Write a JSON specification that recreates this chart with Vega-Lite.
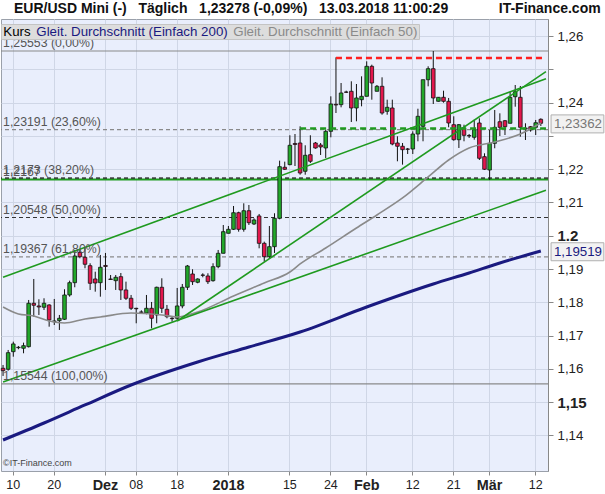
{
"$schema": "https://vega.github.io/schema/vega-lite/v6.json",
"width": 547, "height": 452, "autosize": "none",
"padding": {"left": 1, "top": 19, "right": 57, "bottom": 23},
"background": "white",
"title": {"text": "EUR/USD Mini (-)\u00a0\u00a0\u00a0Täglich\u00a0\u00a0\u00a01,23278 (-0,09%)\u00a0\u00a0\u00a013.03.2018 11:00:29\u00a0\u00a0\u00a0\u00a0\u00a0\u00a0\u00a0\u00a0\u00a0\u00a0\u00a0\u00a0\u00a0IT-Finance.com", "anchor": "start", "frame": "group", "dx": 13, "offset": 3, "font": "Liberation Sans", "fontSize": 14, "fontWeight": "bold", "color": "#111", "limit": 0},
"config": {"view": {"fill": "#e9eefc", "stroke": "#9aa0aa"}, "font": "Liberation Sans", "axisY": {"labelOverlap": false, "tickCount": 14}},
"datasets": {
"candles": [
{"d":"2017-11-08","o":1.16016,"h":1.16115,"l":1.15785,"c":1.15944},
{"d":"2017-11-09","o":1.15986,"h":1.16566,"l":1.15944,"c":1.16485},
{"d":"2017-11-10","o":1.16515,"h":1.16816,"l":1.16364,"c":1.16747},
{"d":"2017-11-12","o":1.16635,"h":1.16686,"l":1.16587,"c":1.16647},
{"d":"2017-11-13","o":1.16617,"h":1.16786,"l":1.16467,"c":1.16695},
{"d":"2017-11-14","o":1.16665,"h":1.18069,"l":1.16641,"c":1.17970},
{"d":"2017-11-15","o":1.17970,"h":1.18700,"l":1.17567,"c":1.17910},
{"d":"2017-11-16","o":1.17889,"h":1.18090,"l":1.17618,"c":1.17859},
{"d":"2017-11-17","o":1.17850,"h":1.18120,"l":1.17768,"c":1.17970},
{"d":"2017-11-19","o":1.17919,"h":1.17940,"l":1.17266,"c":1.17468},
{"d":"2017-11-20","o":1.17417,"h":1.18099,"l":1.17317,"c":1.17438},
{"d":"2017-11-21","o":1.17447,"h":1.17618,"l":1.17167,"c":1.17519},
{"d":"2017-11-22","o":1.17489,"h":1.18391,"l":1.17468,"c":1.18219},
{"d":"2017-11-23","o":1.18219,"h":1.18649,"l":1.18168,"c":1.18589},
{"d":"2017-11-24","o":1.18589,"h":1.19572,"l":1.18451,"c":1.19391},
{"d":"2017-11-26","o":1.19503,"h":1.19572,"l":1.19322,"c":1.19370},
{"d":"2017-11-27","o":1.19352,"h":1.19641,"l":1.19022,"c":1.19142},
{"d":"2017-11-28","o":1.19100,"h":1.19172,"l":1.18370,"c":1.18571},
{"d":"2017-11-29","o":1.18700,"h":1.18919,"l":1.18319,"c":1.18580},
{"d":"2017-11-30","o":1.18589,"h":1.19422,"l":1.18168,"c":1.19052},
{"d":"2017-12-01","o":1.19106,"h":1.19482,"l":1.18370,"c":1.19076},
{"d":"2017-12-03","o":1.18700,"h":1.18820,"l":1.18670,"c":1.18685},
{"d":"2017-12-04","o":1.18649,"h":1.18820,"l":1.18370,"c":1.18751},
{"d":"2017-12-05","o":1.18769,"h":1.18880,"l":1.18069,"c":1.18370},
{"d":"2017-12-06","o":1.18370,"h":1.18620,"l":1.18069,"c":1.18120},
{"d":"2017-12-07","o":1.18120,"h":1.18219,"l":1.17768,"c":1.17819},
{"d":"2017-12-08","o":1.17819,"h":1.17834,"l":1.17368,"c":1.17804},
{"d":"2017-12-10","o":1.17708,"h":1.17759,"l":1.17658,"c":1.17699},
{"d":"2017-12-11","o":1.17678,"h":1.18219,"l":1.17639,"c":1.17819},
{"d":"2017-12-12","o":1.17819,"h":1.18009,"l":1.17217,"c":1.17519},
{"d":"2017-12-13","o":1.17618,"h":1.18469,"l":1.17368,"c":1.18451},
{"d":"2017-12-14","o":1.18451,"h":1.18721,"l":1.17678,"c":1.17819},
{"d":"2017-12-15","o":1.17789,"h":1.17919,"l":1.17519,"c":1.17567},
{"d":"2017-12-17","o":1.17519,"h":1.17567,"l":1.17417,"c":1.17507},
{"d":"2017-12-18","o":1.17519,"h":1.18430,"l":1.17468,"c":1.17889},
{"d":"2017-12-19","o":1.17889,"h":1.18550,"l":1.17819,"c":1.18451},
{"d":"2017-12-20","o":1.18451,"h":1.19121,"l":1.18370,"c":1.19091},
{"d":"2017-12-21","o":1.18850,"h":1.18992,"l":1.18520,"c":1.18619},
{"d":"2017-12-22","o":1.18601,"h":1.18721,"l":1.18571,"c":1.18700},
{"d":"2017-12-24","o":1.18820,"h":1.18871,"l":1.18751,"c":1.18811},
{"d":"2017-12-26","o":1.18790,"h":1.18871,"l":1.18550,"c":1.18619},
{"d":"2017-12-27","o":1.18649,"h":1.19172,"l":1.18619,"c":1.19070},
{"d":"2017-12-28","o":1.19070,"h":1.19572,"l":1.19022,"c":1.19472},
{"d":"2017-12-29","o":1.19472,"h":1.20323,"l":1.19472,"c":1.20122},
{"d":"2018-01-01","o":1.20073,"h":1.20293,"l":1.20073,"c":1.20193},
{"d":"2018-01-02","o":1.20193,"h":1.20894,"l":1.20173,"c":1.20692},
{"d":"2018-01-03","o":1.20692,"h":1.20722,"l":1.20122,"c":1.20193},
{"d":"2018-01-04","o":1.20193,"h":1.20975,"l":1.20122,"c":1.20752},
{"d":"2018-01-05","o":1.20752,"h":1.20924,"l":1.20323,"c":1.20392},
{"d":"2018-01-07","o":1.20353,"h":1.20524,"l":1.20323,"c":1.20474},
{"d":"2018-01-08","o":1.20594,"h":1.20654,"l":1.19622,"c":1.19772},
{"d":"2018-01-09","o":1.19772,"h":1.19822,"l":1.19220,"c":1.19370},
{"d":"2018-01-10","o":1.19370,"h":1.20293,"l":1.19331,"c":1.19671},
{"d":"2018-01-11","o":1.19671,"h":1.20675,"l":1.19482,"c":1.20524},
{"d":"2018-01-12","o":1.20524,"h":1.22257,"l":1.20494,"c":1.22076},
{"d":"2018-01-14","o":1.22058,"h":1.22227,"l":1.21976,"c":1.21998},
{"d":"2018-01-15","o":1.22137,"h":1.23020,"l":1.22119,"c":1.22719},
{"d":"2018-01-16","o":1.22773,"h":1.23058,"l":1.22096,"c":1.22743},
{"d":"2018-01-17","o":1.22788,"h":1.23289,"l":1.21835,"c":1.21886},
{"d":"2018-01-18","o":1.21937,"h":1.22719,"l":1.21835,"c":1.22418},
{"d":"2018-01-19","o":1.22436,"h":1.23020,"l":1.22187,"c":1.22238},
{"d":"2018-01-21","o":1.22788,"h":1.22818,"l":1.22617,"c":1.22638},
{"d":"2018-01-22","o":1.22728,"h":1.22788,"l":1.22427,"c":1.22668},
{"d":"2018-01-23","o":1.22638,"h":1.23188,"l":1.22337,"c":1.23139},
{"d":"2018-01-24","o":1.23139,"h":1.24191,"l":1.22959,"c":1.23960},
{"d":"2018-01-25","o":1.23950,"h":1.25362,"l":1.23689,"c":1.23930},
{"d":"2018-01-26","o":1.23940,"h":1.24591,"l":1.23860,"c":1.24291},
{"d":"2018-01-28","o":1.24321,"h":1.24360,"l":1.24291,"c":1.24312},
{"d":"2018-01-29","o":1.24342,"h":1.24642,"l":1.23419,"c":1.23840},
{"d":"2018-01-30","o":1.23840,"h":1.24561,"l":1.23440,"c":1.24141},
{"d":"2018-01-31","o":1.24090,"h":1.24792,"l":1.23890,"c":1.24191},
{"d":"2018-02-01","o":1.24191,"h":1.25243,"l":1.24191,"c":1.25093},
{"d":"2018-02-02","o":1.25093,"h":1.25142,"l":1.24090,"c":1.24591},
{"d":"2018-02-04","o":1.24342,"h":1.24531,"l":1.24342,"c":1.24492},
{"d":"2018-02-05","o":1.24492,"h":1.24762,"l":1.23638,"c":1.23689},
{"d":"2018-02-06","o":1.23740,"h":1.24090,"l":1.23638,"c":1.23860},
{"d":"2018-02-07","o":1.23840,"h":1.24090,"l":1.22719,"c":1.22758},
{"d":"2018-02-08","o":1.22788,"h":1.22989,"l":1.22238,"c":1.22689},
{"d":"2018-02-09","o":1.22689,"h":1.22788,"l":1.22137,"c":1.22587},
{"d":"2018-02-11","o":1.22608,"h":1.22638,"l":1.22457,"c":1.22599},
{"d":"2018-02-12","o":1.22608,"h":1.23139,"l":1.22457,"c":1.23058},
{"d":"2018-02-13","o":1.23058,"h":1.23818,"l":1.22839,"c":1.23590},
{"d":"2018-02-14","o":1.23289,"h":1.24690,"l":1.22839,"c":1.24690},
{"d":"2018-02-15","o":1.24690,"h":1.25093,"l":1.24492,"c":1.25021},
{"d":"2018-02-16","o":1.25021,"h":1.25553,"l":1.23960,"c":1.24141},
{"d":"2018-02-18","o":1.24041,"h":1.24170,"l":1.24030,"c":1.24161},
{"d":"2018-02-19","o":1.24161,"h":1.24360,"l":1.24000,"c":1.24041},
{"d":"2018-02-20","o":1.24041,"h":1.24141,"l":1.23259,"c":1.23389},
{"d":"2018-02-21","o":1.23338,"h":1.23590,"l":1.22857,"c":1.22887},
{"d":"2018-02-22","o":1.22887,"h":1.23359,"l":1.22638,"c":1.23338},
{"d":"2018-02-23","o":1.23239,"h":1.23338,"l":1.22839,"c":1.23019},
{"d":"2018-02-25","o":1.23013,"h":1.23058,"l":1.22938,"c":1.22998},
{"d":"2018-02-26","o":1.22959,"h":1.23488,"l":1.22887,"c":1.23188},
{"d":"2018-02-27","o":1.23389,"h":1.23530,"l":1.22277,"c":1.22328},
{"d":"2018-02-28","o":1.22377,"h":1.22478,"l":1.21976,"c":1.21998},
{"d":"2018-03-01","o":1.21976,"h":1.23179,"l":1.21676,"c":1.22779},
{"d":"2018-03-02","o":1.22779,"h":1.23780,"l":1.22629,"c":1.23259},
{"d":"2018-03-04","o":1.23427,"h":1.23680,"l":1.22998,"c":1.23259},
{"d":"2018-03-05","o":1.23457,"h":1.23479,"l":1.23028,"c":1.23277},
{"d":"2018-03-06","o":1.23380,"h":1.24330,"l":1.23380,"c":1.24161},
{"d":"2018-03-07","o":1.24179,"h":1.24531,"l":1.23879,"c":1.24330},
{"d":"2018-03-08","o":1.24161,"h":1.24501,"l":1.22977,"c":1.23259},
{"d":"2018-03-09","o":1.23239,"h":1.23380,"l":1.22878,"c":1.23218},
{"d":"2018-03-11","o":1.23277,"h":1.23299,"l":1.23128,"c":1.23179},
{"d":"2018-03-12","o":1.23259,"h":1.23479,"l":1.23028,"c":1.23397},
{"d":"2018-03-13","o":1.23500,"h":1.23530,"l":1.23299,"c":1.23380}
],
"ma": [
{"s":"Gleit. Durchschnitt (Einfach 200)","d":"2017-11-08","v":1.13860},
{"s":"Gleit. Durchschnitt (Einfach 200)","d":"2017-11-17","v":1.14371},
{"s":"Gleit. Durchschnitt (Einfach 200)","d":"2017-11-27","v":1.14912},
{"s":"Gleit. Durchschnitt (Einfach 200)","d":"2017-12-07","v":1.15513},
{"s":"Gleit. Durchschnitt (Einfach 200)","d":"2017-12-22","v":1.16204},
{"s":"Gleit. Durchschnitt (Einfach 200)","d":"2018-01-05","v":1.16655},
{"s":"Gleit. Durchschnitt (Einfach 200)","d":"2018-01-17","v":1.17106},
{"s":"Gleit. Durchschnitt (Einfach 200)","d":"2018-02-01","v":1.17858},
{"s":"Gleit. Durchschnitt (Einfach 200)","d":"2018-02-16","v":1.18549},
{"s":"Gleit. Durchschnitt (Einfach 200)","d":"2018-02-25","v":1.18880},
{"s":"Gleit. Durchschnitt (Einfach 200)","d":"2018-03-04","v":1.19180},
{"s":"Gleit. Durchschnitt (Einfach 200)","d":"2018-03-13","v":1.19540},
{"s":"Gleit. Durchschnitt (Einfach 50)","d":"2017-11-08","v":1.17858},
{"s":"Gleit. Durchschnitt (Einfach 50)","d":"2017-11-12","v":1.17648},
{"s":"Gleit. Durchschnitt (Einfach 50)","d":"2017-11-15","v":1.17588},
{"s":"Gleit. Durchschnitt (Einfach 50)","d":"2017-11-19","v":1.17438},
{"s":"Gleit. Durchschnitt (Einfach 50)","d":"2017-11-22","v":1.17377},
{"s":"Gleit. Durchschnitt (Einfach 50)","d":"2017-11-27","v":1.17498},
{"s":"Gleit. Durchschnitt (Einfach 50)","d":"2017-11-30","v":1.17558},
{"s":"Gleit. Durchschnitt (Einfach 50)","d":"2017-12-07","v":1.17678},
{"s":"Gleit. Durchschnitt (Einfach 50)","d":"2017-12-14","v":1.17618},
{"s":"Gleit. Durchschnitt (Einfach 50)","d":"2017-12-18","v":1.17558},
{"s":"Gleit. Durchschnitt (Einfach 50)","d":"2017-12-22","v":1.17708},
{"s":"Gleit. Durchschnitt (Einfach 50)","d":"2018-01-02","v":1.18189},
{"s":"Gleit. Durchschnitt (Einfach 50)","d":"2018-01-09","v":1.18580},
{"s":"Gleit. Durchschnitt (Einfach 50)","d":"2018-01-15","v":1.18910},
{"s":"Gleit. Durchschnitt (Einfach 50)","d":"2018-01-17","v":1.19151},
{"s":"Gleit. Durchschnitt (Einfach 50)","d":"2018-01-23","v":1.19632},
{"s":"Gleit. Durchschnitt (Einfach 50)","d":"2018-01-30","v":1.20233},
{"s":"Gleit. Durchschnitt (Einfach 50)","d":"2018-02-04","v":1.20624},
{"s":"Gleit. Durchschnitt (Einfach 50)","d":"2018-02-09","v":1.21135},
{"s":"Gleit. Durchschnitt (Einfach 50)","d":"2018-02-15","v":1.21766},
{"s":"Gleit. Durchschnitt (Einfach 50)","d":"2018-02-20","v":1.22277},
{"s":"Gleit. Durchschnitt (Einfach 50)","d":"2018-02-25","v":1.22637},
{"s":"Gleit. Durchschnitt (Einfach 50)","d":"2018-03-02","v":1.22818},
{"s":"Gleit. Durchschnitt (Einfach 50)","d":"2018-03-08","v":1.23058},
{"s":"Gleit. Durchschnitt (Einfach 50)","d":"2018-03-13","v":1.23389}
],
"fib": [
{"v":1.25553,"t":"1,25553 (0,00%)","k":"s"},
{"v":1.23191,"t":"1,23191 (23,60%)","k":"g"},
{"v":1.2173,"t":"1,2173 (38,20%)","k":"k"},
{"v":1.20548,"t":"1,20548 (50,00%)","k":"k"},
{"v":1.19367,"t":"1,19367 (61,80%)","k":"g"},
{"v":1.15544,"t":"1,15544 (100,00%)","k":"s"}
],
"support": [{"v":1.2169,"t":"1,2167"}],
"trend": [
{"id":"a","d":"2017-11-08","v":1.18750},{"id":"a","d":"2018-03-14","v":1.24720},
{"id":"b","d":"2017-11-08","v":1.15606},{"id":"b","d":"2018-03-14","v":1.21366},
{"id":"c","d":"2017-12-18","v":1.17437},{"id":"c","d":"2018-03-14","v":1.24931}
],
"hl": [
{"id":"r","d":"2018-01-25","v":1.2534},{"id":"r","d":"2018-03-14","v":1.2534},
{"id":"g","d":"2018-01-17","v":1.2322},{"id":"g","d":"2018-03-14","v":1.2322}
],
"marks": [
{"d":"2018-03-14","v":1.23362,"t":"1,23362","k":"p"},
{"d":"2018-03-14","v":1.19519,"t":"1,19519","k":"m"}
],
"wm": [{"v":1.1318,"t":"©IT-Finance.com"}]
},
"layer": [
{"data":{"name":"fib"},"mark":{"type":"rule","strokeWidth":1.2},
 "encoding":{
  "y":{"field":"v","type":"quantitative","title":null,
   "scale":{"domain":[1.12928,1.26515],"nice":false,"zero":false},
   "axis":{"orient":"right","title":null,"labelOverlap":false,"tickCount":14,
    "values":[1.14,1.15,1.16,1.17,1.18,1.19,1.2,1.21,1.22,1.23,1.24,1.25,1.26],
    "labelExpr":"abs(datum.value-1.25)<0.001 || abs(datum.value-1.23)<0.001 || abs(datum.value-1.13)<0.001 ? '' : abs(datum.value-1.2)<0.001 ? '1.2' : replace(format(datum.value, '.2f'), '.', ',')",
    "labelFontSize":{"condition":{"test":"abs(datum.value-1.2)<0.001 || abs(datum.value-1.15)<0.001","value":15},"value":13.3},
    "labelFontWeight":{"condition":{"test":"abs(datum.value-1.2)<0.001 || abs(datum.value-1.15)<0.001","value":"bold"},"value":"normal"},
    "labelColor":"#222","labelFont":"Liberation Sans","labelPadding":4,"tickSize":5,"tickColor":"#888","domainColor":"#888",
    "grid":true,"gridColor":"#cfd6e6"}},
  "color":{"condition":{"test":"datum.k=='k'","value":"#333333"},"value":"#8a8a8a"},
  "strokeDash":{"condition":{"test":"datum.k=='s'","value":[1,0]},"value":[4,3]}
 }},
{"data":{"name":"support"},"mark":{"type":"rule","color":"#1f9a1f","strokeWidth":2},
 "encoding":{"y":{"field":"v","type":"quantitative","title":null}}},
{"data":{"name":"fib"},"transform":[{"filter":"datum.k=='k' && datum.v>1.21"}],"mark":{"type":"rule","color":"#333","strokeWidth":1,"strokeDash":[4,3]},
 "encoding":{"y":{"field":"v","type":"quantitative","title":null}}},
{"data":{"name":"candles"},"mark":{"type":"rule","color":"#111","strokeWidth":1},
 "encoding":{
  "x":{"field":"d","type":"ordinal","title":null,
   "scale":{"paddingInner":0.3,"paddingOuter":0.05},
   "axis":{"title":null,"values":["2017-11-10","2017-11-20","2017-12-01","2017-12-08","2017-12-18","2018-01-01","2018-01-15","2018-01-24","2018-02-01","2018-02-12","2018-02-21","2018-03-01","2018-03-12"],
    "labelExpr":"datum.value=='2017-12-01' ? 'Dez' : datum.value=='2018-01-01' ? '2018' : datum.value=='2018-02-01' ? 'Feb' : datum.value=='2018-03-01' ? 'Mär' : substring(datum.value, 8, 10)",
    "labelAngle":0,"labelFont":"Liberation Sans","labelColor":"#222",
    "labelFontSize":{"condition":{"test":"substring(datum.value,8,10)=='01'","value":14.4},"value":12.5},
    "labelFontWeight":{"condition":{"test":"substring(datum.value,8,10)=='01'","value":"bold"},"value":"normal"},
    "grid":true,"gridColor":"#cfd6e6","bandPosition":0.5,"domain":false,"tickSize":4,"tickColor":"#888","labelPadding":3}},
  "y":{"field":"l","type":"quantitative","title":null},
  "y2":{"field":"h","title":null}
 }},
{"data":{"name":"candles"},"mark":{"type":"bar","stroke":"#111","strokeWidth":0.8},
 "encoding":{
  "x":{"field":"d","type":"ordinal","title":null},
  "y":{"field":"o","type":"quantitative","title":null},
  "y2":{"field":"c","title":null},
  "color":{"condition":{"test":"datum.c>=datum.o","value":"#22a82a"},"value":"#e3174d"}
 }},
{"data":{"name":"ma"},"transform":[{"filter":"datum.s=='Gleit. Durchschnitt (Einfach 50)'"}],"mark":{"type":"line","strokeWidth":1.6,"interpolate":"monotone"},
 "encoding":{
  "x":{"field":"d","type":"ordinal","title":null},
  "y":{"field":"v","type":"quantitative","title":null},
  "color":{"field":"s","type":"nominal",
   "scale":{"domain":["Kurs","Gleit. Durchschnitt (Einfach 200)","Gleit. Durchschnitt (Einfach 50)"],"range":["#000000","#1a1a80","#8a8a8a"]},
   "legend":{"orient":"none","legendX":0,"legendY":5,"direction":"horizontal","title":null,"symbolSize":1,"symbolStrokeWidth":0,"symbolOpacity":0,"labelFontSize":13.3,"labelFont":"Liberation Sans","labelOffset":-12,"labelLimit":400,"columnPadding":4,"fillColor":"#dddddd","strokeColor":"#c4c4c4","padding":1,
    "encode":{"labels":{"update":{"fill":{"scale":"color","field":"value"}}}}}}
 }},
{"data":{"name":"ma"},"transform":[{"filter":"datum.s=='Gleit. Durchschnitt (Einfach 200)'"}],"mark":{"type":"line","strokeWidth":3,"interpolate":"monotone"},
 "encoding":{
  "x":{"field":"d","type":"ordinal","title":null},
  "y":{"field":"v","type":"quantitative","title":null},
  "color":{"field":"s","type":"nominal"}
 }},
{"data":{"name":"trend"},"mark":{"type":"line","color":"#1f9a1f","strokeWidth":1.6},
 "encoding":{
  "x":{"field":"d","type":"ordinal","title":null},
  "y":{"field":"v","type":"quantitative","title":null},
  "detail":{"field":"id"}
 }},
{"data":{"name":"hl"},"mark":{"type":"line","strokeWidth":2.5,"strokeDash":[6,4]},
 "encoding":{
  "x":{"field":"d","type":"ordinal","title":null},
  "y":{"field":"v","type":"quantitative","title":null},
  "detail":{"field":"id"},
  "color":{"condition":{"test":"datum.id=='r'","value":"#ff1f1f"},"value":"#1f9a1f"}
 }},
{"data":{"name":"fib"},"mark":{"type":"text","align":"left","baseline":"bottom","dy":-1,"fontSize":12.3,"color":"#555"},
 "encoding":{
  "x":{"datum":"2017-11-08","type":"ordinal"},
  "y":{"field":"v","type":"quantitative","title":null},
  "text":{"field":"t"}
 }},
{"data":{"name":"support"},"mark":{"type":"text","align":"left","baseline":"bottom","dy":-1,"fontSize":12.3,"color":"#555"},
 "encoding":{
  "x":{"datum":"2017-11-08","type":"ordinal"},
  "y":{"field":"v","type":"quantitative","title":null},
  "text":{"field":"t"}
 }},
{"data":{"name":"wm"},"mark":{"type":"text","align":"left","baseline":"middle","fontSize":9,"color":"#444"},
 "encoding":{
  "x":{"datum":"2017-11-08","type":"ordinal"},
  "y":{"field":"v","type":"quantitative","title":null},
  "text":{"field":"t"}
 }},
{"data":{"name":"marks"},"mark":{"type":"point","shape":"M0.17,-0.3H1.93V0.3H0.17Z","size":3600,"filled":true,"fill":"#f2f2f2","stroke":"#b0b0b0","strokeWidth":1,"opacity":1},
 "encoding":{
  "x":{"field":"d","type":"ordinal","title":null},
  "y":{"field":"v","type":"quantitative","title":null}
 }},
{"data":{"name":"marks"},"mark":{"type":"text","align":"left","baseline":"middle","dx":8,"fontSize":13.3},
 "encoding":{
  "x":{"field":"d","type":"ordinal","title":null},
  "y":{"field":"v","type":"quantitative","title":null},
  "text":{"field":"t"},
  "color":{"condition":{"test":"datum.k=='m'","value":"#1a1a80"},"value":"#777777"}
 }}
]
}
